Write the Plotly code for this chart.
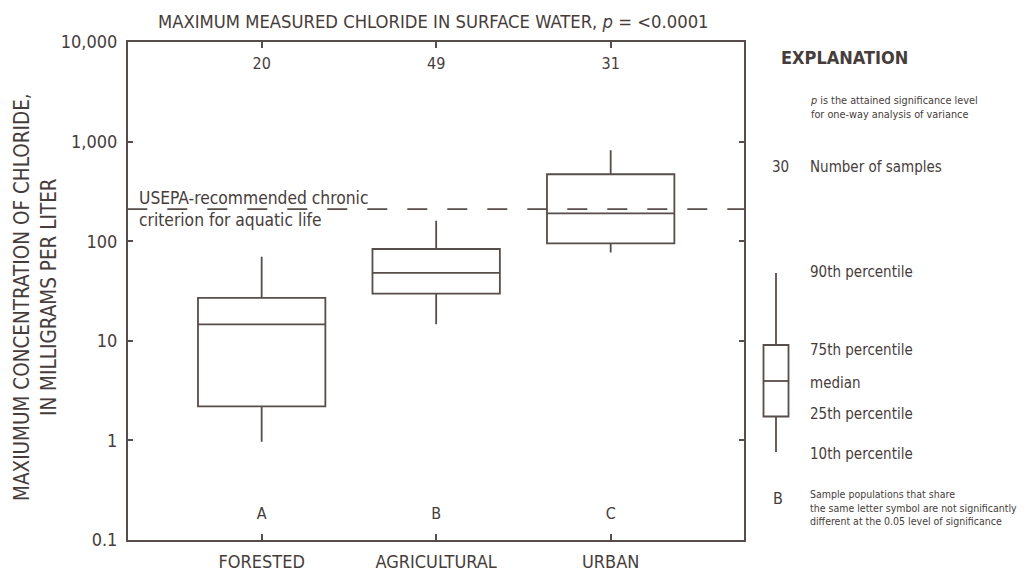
import plotly.graph_objects as go

# ---- data ----
categories = ["FORESTED", "AGRICULTURAL", "URBAN"]
p10 = [0.97, 14.7, 77]
p25 = [2.2, 29.7, 95]
p50 = [14.6, 48, 190]
p75 = [27, 83.5, 470]
p90 = [70, 160, 820]
n_samples = ["20", "49", "31"]
letters = ["A", "B", "C"]
criterion = 210
ytick_vals = [0.1, 1, 10, 100, 1000, 10000]
ytick_text = ["0.1", "1", "10", "100", "1,000", "10,000"]

LINE = "#574d4a"
TXT = "#463d3b"
FONT = "Liberation Sans Narrow, DejaVu Sans Condensed, Arial Narrow, sans-serif"

xpos = list(range(len(categories)))

fig = go.Figure()
fig.add_trace(go.Box(
    x=xpos, q1=p25, median=p50, q3=p75, lowerfence=p10, upperfence=p90,
    width=0.73, whiskerwidth=0, fillcolor="rgba(255,255,255,0)",
    line=dict(color=LINE, width=1.8), boxpoints=False, hoverinfo="skip",
    showlegend=False))

# criterion dashed line
fig.add_trace(go.Scatter(
    x=[-0.77, 2.77], y=[criterion, criterion], mode="lines",
    line=dict(color=LINE, width=1.8, dash="20px,20px"),
    showlegend=False, hoverinfo="skip"))

# sample counts & letters
fig.add_trace(go.Scatter(x=xpos, y=[5900] * 3, mode="text", text=n_samples,
                         textfont=dict(family=FONT, size=16, color=TXT),
                         showlegend=False, hoverinfo="skip"))
fig.add_trace(go.Scatter(x=xpos, y=[0.178] * 3, mode="text", text=letters,
                         textfont=dict(family=FONT, size=16, color=TXT),
                         showlegend=False, hoverinfo="skip"))

fig.update_xaxes(
    range=[-0.766, 2.764], tickvals=xpos, ticktext=categories,
    ticks="inside", ticklen=6, tickwidth=1.8, tickcolor=LINE,
    showline=True, linecolor=LINE, linewidth=2, mirror="ticks",
    showgrid=False, zeroline=False, ticklabelstandoff=4, automargin=False,
    tickfont=dict(family=FONT, size=18, color=TXT))
fig.update_yaxes(
    type="log", range=[-1, 4], tickvals=ytick_vals, ticktext=ytick_text,
    ticks="inside", ticklen=5, tickwidth=1.8, tickcolor=LINE,
    showline=True, linecolor=LINE, linewidth=2, mirror="ticks",
    showgrid=False, zeroline=False, ticklabelstandoff=5, automargin=False,
    tickfont=dict(family=FONT, size=18, color=TXT))

# page-pixel -> paper (plot area spans x 128..744, y 42..540 on the page)
PX0, PX1, PY0, PY1 = 128, 744, 42, 540
def px(x):
    return (x - PX0) / (PX1 - PX0)
def py(y):
    return (PY1 - y) / (PY1 - PY0)

ann = []
ann.append(dict(xref="paper", yref="paper", x=px(433), y=py(22),
                text="MAXIMUM MEASURED CHLORIDE IN SURFACE WATER, <i>p</i> = <0.0001",
                showarrow=False, font=dict(family=FONT, size=18.3, color=TXT),
                xanchor="center", yanchor="middle"))
ann.append(dict(xref="paper", yref="paper", x=px(35), y=py(297),
                text="MAXIUMUM CONCENTRATION OF CHLORIDE,<br>IN MILLIGRAMS PER LITER",
                showarrow=False, textangle=-90,
                font=dict(family=FONT, size=20.5, color=TXT),
                xanchor="center", yanchor="middle"))
ann.append(dict(xref="paper", yref="paper", x=px(137), y=py(209),
                text="USEPA-recommended chronic<br>criterion for aquatic life",
                showarrow=False, align="left",
                font=dict(family=FONT, size=17.3, color=TXT),
                xanchor="left", yanchor="middle"))

def txt(x, y, s, size, anchor="left"):
    ann.append(dict(xref="paper", yref="paper", x=px(x), y=py(y), text=s,
                    showarrow=False, xanchor=anchor, yanchor="middle", align="left",
                    font=dict(family=FONT, size=size, color=TXT)))

txt(779, 58, "<b>EXPLANATION</b>", 18)
txt(808, 108, "<i>p</i> is the attained significance level<br>for one-way analysis of variance", 10.8)
txt(770, 167, "30", 15)
txt(808, 167, "Number of samples", 15)
txt(808, 272, "90th percentile", 15)
txt(808, 350, "75th percentile", 15)
txt(808, 383, "median", 15)
txt(808, 414, "25th percentile", 15)
txt(808, 454, "10th percentile", 15)
txt(771, 498, "B", 16)
txt(808, 507, "Sample populations that share<br>the same letter symbol are not significantly<br>different at the 0.05 level of significance", 10.5)

fig.update_layout(annotations=ann)

# legend box glyph
def seg(x0, y0, x1, y1):
    return dict(type="line", xref="paper", yref="paper",
                x0=px(x0), y0=py(y0), x1=px(x1), y1=py(y1),
                line=dict(color=LINE, width=1.8))
shapes = [
    seg(776, 273, 776, 345),
    dict(type="rect", xref="paper", yref="paper", x0=px(763.5), y0=py(345),
         x1=px(788.5), y1=py(416.5), line=dict(color=LINE, width=1.8)),
    seg(763.5, 381, 788.5, 381),
    seg(776, 416.5, 776, 452),
]
fig.update_layout(shapes=shapes)

# page has an 8px body margin; size the figure so plot area lands at page coords above
fig.update_layout(
    width=1022, height=567,
    margin=dict(l=PX0 - 8, r=1022 - (PX1 - 8), t=PY0 - 8, b=567 - (PY1 - 8)),
    paper_bgcolor="white", plot_bgcolor="white",
)

fig.write_html("out.html")
